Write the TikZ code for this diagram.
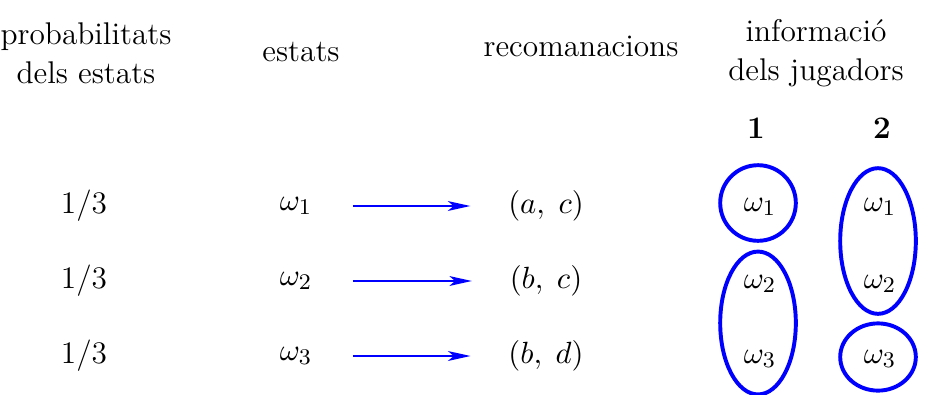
\documentclass[tikz,border=0pt]{standalone}
\usepackage{tikz}
\usetikzlibrary{arrows.meta,positioning,shapes.geometric}

\begin{document}
\begin{tikzpicture}[
    x=0.357pt, y=-0.357pt,
    every node/.style={font=\fontsize{11.2}{14}\selectfont},
    head/.style={align=center},
    grup/.style={ellipse, draw=blue, line width=1.4pt, inner sep=0pt, minimum width=27pt},
    arrow/.style={-{Stealth[length=8pt, width=3.5pt, inset=2pt]}, draw=blue, line width=0.8pt,
                  shorten <=11pt, shorten >=10pt}
]
    \useasboundingbox (0,0) rectangle (930,394);

    % capcaleres
    \node[head] (prob) at (86,53) {probabilitats\\dels estats};
    \node[head] (estats) at (301,52) {estats};
    \node[head] (recom) at (581,46) {recomanacions};
    \node[head] (info) at (816,53) {informació\\dels jugadors};
    \node (j1) at (756,128) {\bfseries 1};
    \node (j2) at (882,128) {\bfseries 2};

    % probabilitats
    \node (p1) at (84,206) {1/3};
    \node (p2) at (84,281) {1/3};
    \node (p3) at (84,356) {1/3};

    % estats i recomanacions
    \node (w1) at (296,206) {$\omega_1$};
    \node (w2) at (296,281) {$\omega_2$};
    \node (w3) at (296,356) {$\omega_3$};
    \node (r1) at (546,206) {$(a,\;c)$};
    \node (r2) at (546,281) {$(b,\;c)$};
    \node (r3) at (546,356) {$(b,\;d)$};

    \draw[arrow] (w1) -- (r1);
    \draw[arrow] (w2) -- (r2);
    \draw[arrow] (w3) -- (r3);

    % informacio del jugador 1
    \node (u1) at (760,207) {$\omega_1$};
    \node (u2) at (760,284) {$\omega_2$};
    \node (u3) at (760,359) {$\omega_3$};
    \node[grup, minimum height=27pt] (e1a) at (758,203) {};
    \node[grup, minimum height=51pt] (e1b) at (758,323) {};

    % informacio del jugador 2
    \node (v1) at (880,207) {$\omega_1$};
    \node (v2) at (880,284) {$\omega_2$};
    \node (v3) at (880,359) {$\omega_3$};
    \node[grup, minimum height=52pt] (e2a) at (878,241) {};
    \node[grup, minimum height=24pt] (e2b) at (878,357) {};
\end{tikzpicture}
\end{document}
